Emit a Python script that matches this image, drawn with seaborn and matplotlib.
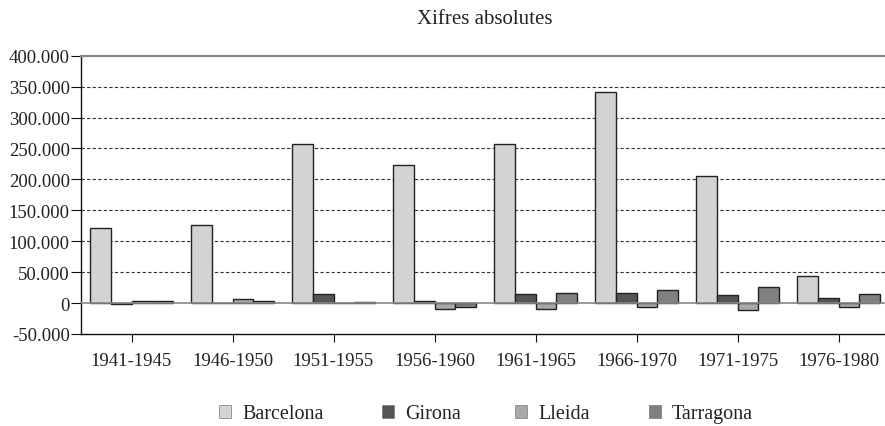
import matplotlib
matplotlib.use("Agg")
import matplotlib.pyplot as plt
import seaborn as sns
import pandas as pd
from matplotlib.ticker import FuncFormatter

periods = ["1941-1945", "1946-1950", "1951-1955", "1956-1960",
           "1961-1965", "1966-1970", "1971-1975", "1976-1980"]
barcelona = [122000, 127000, 258000, 224000, 258000, 342000, 205000, 44000]
girona = [-2000, 0, 14600, 3800, 14600, 16700, 13000, 8600]
lleida = [3800, 6500, 0, -9000, -9000, -6500, -10800, -6500]
tarragona = [3500, 3800, 2000, -6500, 16700, 21600, 25400, 14600]
provinces = ["Barcelona", "Girona", "Lleida", "Tarragona"]
colors = ["#d3d3d3", "#555555", "#a9a9a9", "#808080"]

rows = []
for name, vals in zip(provinces, [barcelona, girona, lleida, tarragona]):
    for p, v in zip(periods, vals):
        rows.append({"period": p, "province": name, "value": v})
df = pd.DataFrame(rows)

sns.set_theme(style="white")
plt.rcParams["font.family"] = ["Liberation Serif", "DejaVu Serif"]

fig = plt.figure(figsize=(8.85, 4.27), dpi=100)
ax = fig.add_axes([81 / 885, 1 - 335 / 427, 1 - 81 / 885, (335 - 56.7) / 427])

sns.barplot(data=df, x="period", y="value", hue="province",
            palette=dict(zip(provinces, colors)), order=periods,
            hue_order=provinces, width=0.82, edgecolor="#222222",
            linewidth=1.0, saturation=1, ax=ax, legend=True, zorder=3)

ax.set_ylim(-50000, 400000)
ax.set_xlim(-0.5, 7.46)
ax.set_yticks(range(-50000, 400001, 50000))
ax.yaxis.set_major_formatter(FuncFormatter(
    lambda v, pos: "0" if v == 0 else f"{int(v):,}".replace(",", ".")))

for y in range(50000, 400000, 50000):
    ax.axhline(y, color="#333333", lw=0.8, ls=(0, (3, 2)), zorder=1)
ax.axhline(0, color="#888888", lw=1.2, zorder=4)

ax.spines["right"].set_visible(False)
ax.spines["top"].set_color("#888888")
ax.spines["top"].set_linewidth(1.6)
ax.spines["left"].set_color("#111111")
ax.spines["left"].set_linewidth(1.0)
ax.spines["bottom"].set_color("#111111")
ax.spines["bottom"].set_linewidth(1.0)

ax.tick_params(axis="y", which="major", direction="out", length=7, width=0.8,
               color="#111111", left=True, labelsize=13.5, pad=1, labelcolor="#222222")
ax.tick_params(axis="x", which="major", direction="out", length=6, width=0.8,
               color="#111111", bottom=True, labelsize=13.5, pad=7, labelcolor="#222222")
ax.set_xlabel("")
ax.set_ylabel("")

fig.text(485 / 885, 1 - 19 / 427, "Xifres absolutes", ha="center", va="center",
         fontsize=15, color="#222222")

handles, labels = ax.get_legend_handles_labels()
ax.get_legend().remove()
legend_x = [219, 382, 515, 649]
for h, lab, lx in zip(handles, labels, legend_x):
    lg = fig.legend([h], [lab], loc="center left",
                    bbox_to_anchor=(lx / 885, 1 - 415 / 427),
                    frameon=False, fontsize=14.5, handlelength=0.6,
                    handleheight=0.6, handletextpad=0.55, borderpad=0,
                    borderaxespad=0)
    for t in lg.get_texts():
        t.set_color("#222222")
    for hh in lg.legend_handles:
        hh.set_linewidth(0.5)
        hh.set_edgecolor("#777777")

fig.savefig("out.png", dpi=100)
